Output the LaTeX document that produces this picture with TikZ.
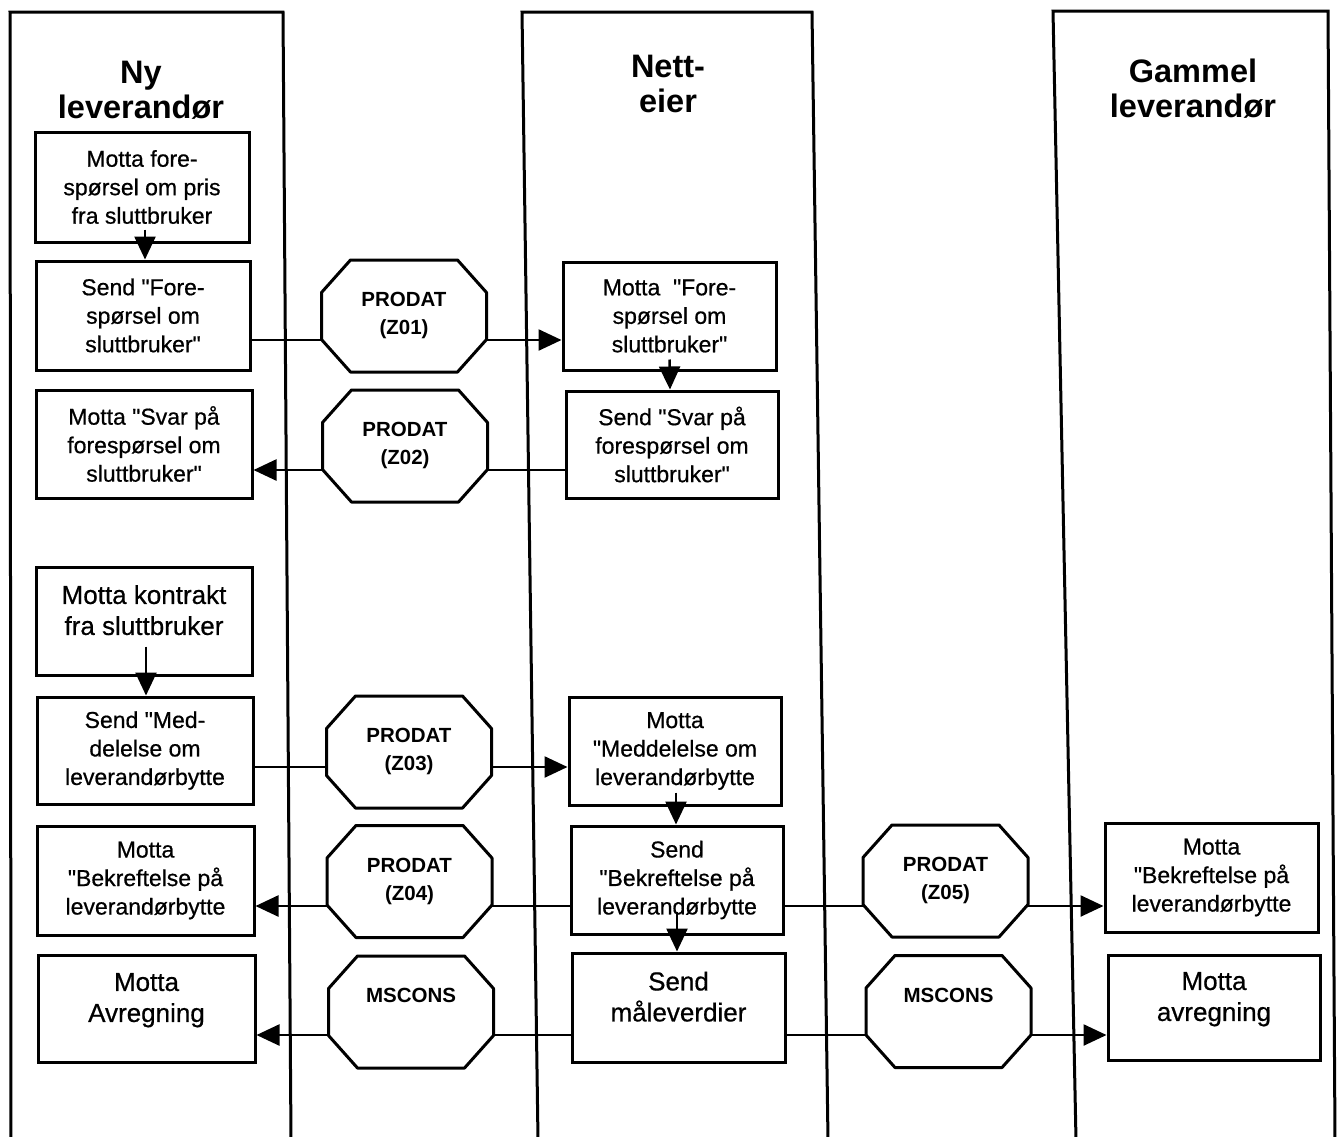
\documentclass[tikz,border=0pt]{standalone}
\usepackage{fontspec}
\setmainfont{Liberation Sans}
\newfontface\boxface{Liberation Sans}[FakeBold=0.6]
\usetikzlibrary{arrows.meta,calc}
\tikzset{
  lane/.style={line width=3pt, line join=miter},
  box/.style={draw, line width=3pt, align=center, inner sep=0pt, font=\boxface\fontsize{23}{28.5}\selectfont},
  bigbox/.style={box, font=\boxface\fontsize{26}{31}\selectfont},
  octarea/.style={inner sep=0pt, minimum width=165pt, minimum height=112pt},
  octline/.style={line width=3pt, line join=round},
  octtxt/.style={align=center, inner sep=0pt, anchor=north, font=\bfseries\fontsize{20.5}{28}\selectfont},
  title/.style={align=center, inner sep=0pt, anchor=north, font=\bfseries\fontsize{32.5}{35}\selectfont},
  conn/.style={line width=2.5pt},
  arr/.style={conn, -{Triangle[length=23pt,width=21pt]}},
  octagon/.pic={\draw[octline] (-82.5,-23.5) -- (-53.5,-56) -- (53.5,-56) -- (82.5,-23.5)
      -- (82.5,23.5) -- (53.5,56) -- (-53.5,56) -- (-82.5,23.5) -- cycle;}
}
\begin{document}
\begin{tikzpicture}[x=1pt,y=-1pt]
\fill[white] (0,0) rectangle (1339,1136);
\useasboundingbox (0,0) rectangle (1339,1136);

% swim lanes
\draw[lane] (11,1140) -- (10,12) -- (283,12) -- (291,1140);
\draw[lane] (538,1140) -- (522,12) -- (812,12) -- (828,1140);
\draw[lane] (1076,1140) -- (1053,11) -- (1328,11) -- (1335,1140);

% titles
\node[title] (t1) at (141,61) {Ny\\leverandør};
\node[title] (t2) at (668,55) {Nett-\\eier};
\node[title] (t3) at (1193,59) {Gammel\\leverandør};

% left lane boxes
\node[box, minimum width=214pt, minimum height=110pt] (L1) at (142,187) {Motta fore-\\spørsel om pris\\fra sluttbruker};
\node[box, minimum width=214pt, minimum height=109pt] (L2) at (143,315.5) {Send "Fore-\\spørsel om\\sluttbruker"};
\node[box, minimum width=216pt, minimum height=108pt] (L3) at (144,444) {Motta "Svar på\\forespørsel om\\sluttbruker"};
\node[bigbox, minimum width=216pt, minimum height=108pt, text depth=22pt] (L4) at (144,621) {Motta kontrakt\\fra sluttbruker};
\node[box, minimum width=216pt, minimum height=107pt] (L5) at (145,750.5) {Send "Med-\\delelse om\\leverandørbytte};
\node[box, minimum width=217pt, minimum height=109pt] (L6) at (145.5,880.5) {Motta\\"Bekreftelse på\\leverandørbytte};
\node[bigbox, minimum width=217pt, minimum height=107pt, text depth=22pt] (L7) at (146.5,1008.5) {Motta\\Avregning};

% middle lane boxes
\node[box, minimum width=213pt, minimum height=108pt] (M1) at (669.5,316) {Motta\ \ "Fore-\\spørsel om\\sluttbruker"};
\node[box, minimum width=212pt, minimum height=107pt] (M2) at (672,444.5) {Send "Svar på\\forespørsel om\\sluttbruker"};
\node[box, minimum width=212pt, minimum height=108pt] (M3) at (675,751) {Motta\\"Meddelelse om\\leverandørbytte};
\node[box, minimum width=212pt, minimum height=108pt] (M4) at (677,880) {Send\\"Bekreftelse på\\leverandørbytte};
\node[bigbox, minimum width=213pt, minimum height=109pt, text depth=22pt] (M5) at (678.5,1007.5) {Send\\måleverdier};

% right lane boxes
\node[box, minimum width=213pt, minimum height=109pt] (R1) at (1211.5,877.5) {Motta\\"Bekreftelse på\\leverandørbytte};
\node[bigbox, minimum width=212pt, minimum height=105pt, text depth=22pt] (R2) at (1214,1007.5) {Motta\\avregning};

% message octagons
\node[octarea] (o1) at (404,316) {};
\node[octarea] (o2) at (405,446) {};
\node[octarea] (o3) at (409,752) {};
\node[octarea] (o4) at (409.5,881.5) {};
\node[octarea] (o5) at (411,1012) {};
\node[octarea] (o6) at (945.5,881) {};
\node[octarea] (o7) at (948.5,1011.5) {};
\foreach \o in {o1,o2,o3,o4,o5,o6,o7} {\pic at (\o.center) {octagon};}
\node[octtxt] (o1t) at ($(o1.center)+(0,-24)$) {PRODAT\\(Z01)};
\node[octtxt] (o2t) at ($(o2.center)+(0,-24)$) {PRODAT\\(Z02)};
\node[octtxt] (o3t) at ($(o3.center)+(0,-24)$) {PRODAT\\(Z03)};
\node[octtxt] (o4t) at ($(o4.center)+(0,-24)$) {PRODAT\\(Z04)};
\node[octtxt] (o5t) at ($(o5.center)+(0,-24)$) {MSCONS};
\node[octtxt] (o6t) at ($(o6.center)+(0,-24)$) {PRODAT\\(Z05)};
\node[octtxt] (o7t) at ($(o7.center)+(0,-24)$) {MSCONS};

% heights of the message lines
\coordinate (y1) at (0,340);
\coordinate (y2) at (0,470);
\coordinate (y3) at (0,767);
\coordinate (y4) at (0,906);
\coordinate (y5) at (0,1035);

% vertical flow arrows
\draw[arr] ($(L1.south)+(3,-14)$) -- (L2.north -| 145,0);
\draw[arr] ($(L4.south)+(2,-30)$) -- (L5.north -| 146,0);
\draw[arr] ($(M1.south)+(0,-12)$) -- (M2.north -| 670,0);
\draw[arr] ($(M3.south)+(1,-14)$) -- (M4.north -| 676,0);
\draw[arr] ($(M4.south)+(0,-24)$) -- (M5.north -| 677,0);

% message connectors
\draw[conn] (L2.east |- y1) -- (o1.west |- y1);
\draw[arr]  (o1.east |- y1) -- (M1.west |- y1);
\draw[conn] (M2.west |- y2) -- (o2.east |- y2);
\draw[arr]  (o2.west |- y2) -- (L3.east |- y2);
\draw[conn] (L5.east |- y3) -- (o3.west |- y3);
\draw[arr]  (o3.east |- y3) -- (M3.west |- y3);
\draw[conn] (M4.west |- y4) -- (o4.east |- y4);
\draw[arr]  (o4.west |- y4) -- (L6.east |- y4);
\draw[conn] (M4.east |- y4) -- (o6.west |- y4);
\draw[arr]  (o6.east |- y4) -- (R1.west |- y4);
\draw[conn] (M5.west |- y5) -- (o5.east |- y5);
\draw[arr]  (o5.west |- y5) -- (L7.east |- y5);
\draw[conn] (M5.east |- y5) -- (o7.west |- y5);
\draw[arr]  (o7.east |- y5) -- (R2.west |- y5);
\end{tikzpicture}
\end{document}
